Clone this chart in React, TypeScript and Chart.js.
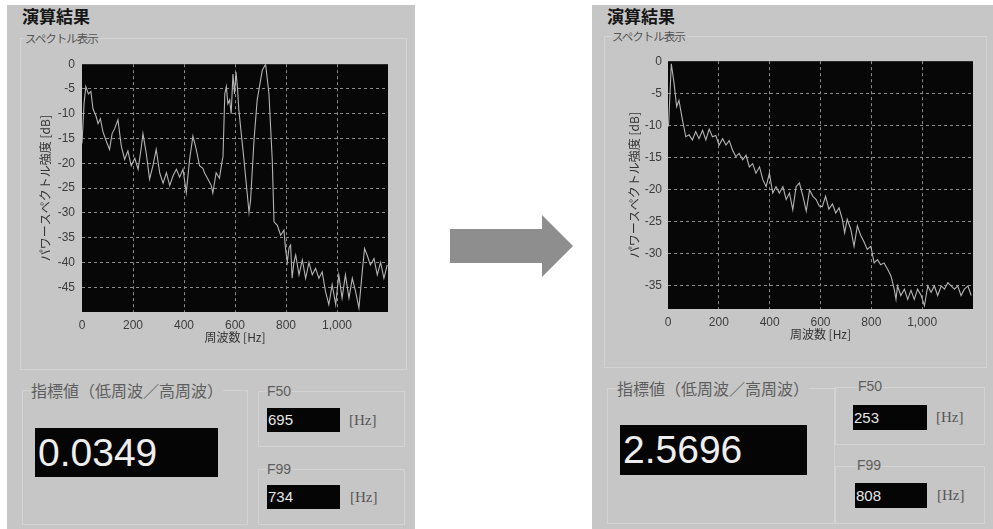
import React, { useEffect, useRef } from "react";
import { Chart, registerables } from "chart.js";

Chart.register(...registerables);

// ---- data ----
const FREQ_TICKS = [0, 200, 400, 600, 800, 1000];
const BEFORE_DB_TICKS = [0, -5, -10, -15, -20, -25, -30, -35, -40, -45];
const AFTER_DB_TICKS = [0, -5, -10, -15, -20, -25, -30, -35];

const beforeFreq = [0, 8, 15, 25, 35, 43, 55, 63, 72, 82, 95, 108, 118, 128, 141, 154, 167, 180, 193, 207, 220, 232, 239, 252, 265, 278, 291, 305, 318, 331, 344, 357, 370, 383, 396, 409, 422, 435, 448, 461, 474, 481, 494, 507, 513, 526, 539, 548, 553, 560, 566, 572, 579, 585, 592, 598, 604, 610, 615, 635, 655, 661, 675, 687, 707, 720, 733, 746, 753, 766, 779, 792, 798, 805, 812, 818, 824, 831, 838, 851, 864, 877, 890, 903, 916, 929, 942, 955, 968, 981, 995, 1007, 1020, 1033, 1047, 1060, 1073, 1086, 1099, 1108, 1118, 1131, 1145, 1158, 1171, 1184, 1197];
const beforeDb = [-16, -8, -4.5, -6, -5.5, -9, -10.5, -12, -11, -13.6, -15.5, -17.2, -14, -13, -11.2, -16.5, -19.2, -17.5, -20.5, -19, -21.2, -17, -14, -18, -23.2, -20.5, -17.2, -22, -24, -21.9, -24.5, -22.5, -21.2, -22.8, -21.2, -25.9, -19.2, -14.5, -17.2, -20.5, -21, -22, -23.2, -24.5, -26, -21.9, -23, -20, -18.6, -6, -4.5, -8, -7.2, -10, -2, -6, -1.6, -5, -9.2, -19.2, -29.9, -27.5, -15, -7.2, -1.2, 0, -5.9, -19.2, -31.8, -32.5, -34.5, -33.5, -37.2, -39.9, -37, -36.5, -43.2, -40, -38.5, -42.5, -39.5, -43.2, -40, -42.5, -41.2, -43.2, -41.9, -45.9, -48.5, -44.5, -48.5, -42.5, -47.2, -42.5, -47.2, -43.2, -45.9, -49.2, -41.9, -37.2, -38.5, -40.5, -39.2, -42.5, -40, -43.2, -40.5];

const afterFreq = [2, 13, 24, 34, 43, 57, 70, 83, 96, 109, 122, 136, 149, 162, 175, 188, 201, 215, 228, 241, 254, 267, 280, 294, 307, 320, 333, 346, 360, 373, 386, 399, 412, 425, 438, 452, 465, 478, 491, 504, 517, 531, 544, 557, 570, 583, 595, 607, 620, 633, 647, 660, 673, 686, 695, 705, 719, 732, 745, 758, 771, 784, 798, 811, 824, 837, 850, 864, 877, 890, 897, 903, 916, 930, 943, 956, 969, 982, 996, 1009, 1022, 1035, 1048, 1061, 1075, 1088, 1101, 1114, 1127, 1140, 1153, 1166, 1180, 1193];
const afterDb = [-10.2, -0.4, -3.5, -7.1, -6.1, -9.2, -11.8, -11.5, -12.3, -11, -12.1, -10.8, -12.3, -10.6, -11.8, -11.6, -13.1, -12.1, -13.1, -12.4, -13.9, -14.9, -14.4, -15.4, -14.7, -16.5, -16, -17.5, -16.5, -18.5, -19.6, -17.5, -20.6, -19.6, -20.6, -19.6, -21.6, -20.6, -23.2, -19.6, -19, -21.1, -23.4, -20.1, -21.1, -21.6, -22.6, -22.7, -21.1, -23.1, -22.3, -23.7, -22.9, -24.7, -26.8, -24.7, -26.2, -28.9, -25.7, -27.2, -28.2, -29.4, -28.9, -31.5, -31, -31.8, -31.5, -32.5, -33.5, -35.6, -37.2, -35.1, -36.6, -35.6, -37.2, -35.8, -37.2, -35.6, -36.6, -38.2, -35.1, -36.1, -35.1, -36.6, -35.1, -35.6, -34.6, -35.1, -35.6, -35.1, -36.6, -35.6, -35.1, -36.6];

const indexValues = ["0.0349", "2.5696"];
const f50Values = ["695", "253"];
const f99Values = ["734", "808"];

const TITLE = "演算結果";
const GROUP_LABEL = "スペクトル表示";
const Y_TITLE = "パワースペクトル強度 [dB]";
const X_TITLE = "周波数 [Hz]";
const INDEX_LABEL = "指標値（低周波／高周波）";

const CJK = '"Noto Sans CJK JP", sans-serif';
const TICK_FONT = '"Liberation Sans", Arial, sans-serif';
const PANEL_BG = "#c6c6c6";

const plotBg = {
  id: "plotBg",
  beforeDraw(chart: any) {
    const { ctx, chartArea } = chart;
    if (!chartArea) return;
    ctx.save();
    ctx.fillStyle = "#070707";
    ctx.fillRect(chartArea.left, chartArea.top, chartArea.right - chartArea.left, chartArea.bottom - chartArea.top);
    ctx.restore();
  },
};

type SpecProps = {
  freq: number[];
  db: number[];
  yMin: number;
  yTicks: number[];
  left: number;
  top: number;
  width: number;
  height: number;
  padLeft: number;
  padTop: number;
  padRight: number;
  yAxisWidth: number;
  xAxisHeight: number;
  tickPadY: number;
};

function Spectrum(p: SpecProps) {
  const ref = useRef<HTMLCanvasElement | null>(null);
  useEffect(() => {
    if (!ref.current) return;
    const gridColor = (ctx: any) => {
      const v = ctx.tick ? ctx.tick.value : null;
      return v === 0 ? "rgba(0,0,0,0)" : "#8c8c8c";
    };
    const chart = new Chart(ref.current, {
      type: "line",
      data: {
        datasets: [
          {
            data: p.freq.map((f, i) => ({ x: f, y: p.db[i] })),
            borderColor: "#b4b4b4",
            borderWidth: 1.1,
            pointRadius: 0,
            tension: 0,
            fill: false,
          },
        ],
      },
      options: {
        animation: false,
        responsive: false,
        devicePixelRatio: 1,
        layout: { padding: { left: p.padLeft, top: p.padTop, right: p.padRight, bottom: 0 } },
        plugins: { legend: { display: false }, tooltip: { enabled: false } },
        scales: {
          x: {
            type: "linear",
            min: 0,
            max: 1200,
            afterBuildTicks: (s: any) => {
              s.ticks = FREQ_TICKS.map((v) => ({ value: v }));
            },
            afterFit: (s: any) => {
              s.height = p.xAxisHeight;
            },
            grid: { color: gridColor, drawTicks: false, lineWidth: 1 },
            border: { display: false, dash: [3, 3] },
            ticks: {
              padding: 6,
              color: "#3c3c3c",
              font: { family: TICK_FONT, size: 12 },
              maxRotation: 0,
              autoSkip: false,
              callback: (v: any) => Number(v).toLocaleString("en-US"),
            },
            title: { display: true, text: X_TITLE, color: "#333", font: { family: CJK, size: 12 }, padding: 0 },
          },
          y: {
            type: "linear",
            min: p.yMin,
            max: 0,
            afterBuildTicks: (s: any) => {
              s.ticks = p.yTicks.map((v) => ({ value: v }));
            },
            afterFit: (s: any) => {
              s.width = p.yAxisWidth;
            },
            grid: { color: gridColor, drawTicks: false, lineWidth: 1 },
            border: { display: false, dash: [3, 3] },
            ticks: {
              padding: p.tickPadY,
              color: "#3c3c3c",
              font: { family: TICK_FONT, size: 12 },
              autoSkip: false,
              callback: (v: any) => String(v),
            },
            title: { display: true, text: Y_TITLE, color: "#333", font: { family: CJK, size: 12 }, padding: 0 },
          },
        },
      },
      plugins: [plotBg],
    } as any);
    return () => chart.destroy();
  }, []);
  return (
    <canvas
      ref={ref}
      width={p.width}
      height={p.height}
      style={{ position: "absolute", left: p.left, top: p.top, width: p.width, height: p.height }}
    />
  );
}

const abs = (l: number, t: number, extra: React.CSSProperties = {}): React.CSSProperties => ({
  position: "absolute",
  left: l,
  top: t,
  whiteSpace: "nowrap",
  ...extra,
});

type Rect = [number, number, number, number];

type PanelProps = {
  x0: number;
  width: number;
  idx: number;
  chart: SpecProps;
  geo: {
    titleL: number;
    titleT: number;
    groupL: number;
    groupT: number;
    frame: Rect;
    indexL: number;
    indexT: number;
    bigBox: Rect;
    f50L: [number, number];
    f50Box: Rect;
    f99L: [number, number];
    f99Box: Rect;
    hzL: number;
    idxFrame: Rect;
    fFrame1: Rect;
    fFrame2: Rect;
  };
};

function Panel({ x0, width, idx, chart, geo }: PanelProps) {
  const frameStyle = (r: Rect): React.CSSProperties =>
    abs(r[0], r[1], { width: r[2], height: r[3], border: "1px solid #d3d3d3", boxSizing: "border-box" });
  const labelGrey = "#5e5e5e";
  const smallBox = (r: Rect, text: string) => (
    <div
      style={abs(r[0], r[1], {
        width: r[2],
        height: r[3],
        background: "#050505",
        color: "#e6e6e6",
        fontFamily: TICK_FONT,
        fontSize: 15,
        lineHeight: r[3] + "px",
        paddingLeft: 1,
        boxSizing: "border-box",
      })}
    >
      {text}
    </div>
  );
  return (
    <>
      <div style={abs(x0, 5, { width, height: 524, background: PANEL_BG })} />
      <div style={frameStyle(geo.frame)} />
      <div style={frameStyle(geo.idxFrame)} />
      <div style={frameStyle(geo.fFrame1)} />
      <div style={frameStyle(geo.fFrame2)} />
      <div style={abs(geo.titleL, geo.titleT, { fontFamily: CJK, fontSize: 17, fontWeight: 700, color: "#151515", lineHeight: "18px" })}>
        {TITLE}
      </div>
      <div
        style={abs(geo.groupL, geo.groupT, {
          fontFamily: CJK,
          fontSize: 11.5,
          letterSpacing: -1,
          color: "#555",
          lineHeight: "13px",
          background: PANEL_BG,
          paddingRight: 2,
        })}
      >
        {GROUP_LABEL}
      </div>
      <Spectrum {...chart} />
      <div style={abs(geo.indexL, geo.indexT, { fontFamily: CJK, fontSize: 16, color: labelGrey, lineHeight: "18px", background: PANEL_BG })}>
        {INDEX_LABEL}
      </div>
      <div
        style={abs(geo.bigBox[0], geo.bigBox[1], {
          width: geo.bigBox[2],
          height: geo.bigBox[3],
          background: "#050505",
          color: "#eeeeee",
          fontFamily: TICK_FONT,
          fontSize: 39,
          lineHeight: geo.bigBox[3] + "px",
          paddingLeft: 3,
          boxSizing: "border-box",
        })}
      >
        {indexValues[idx]}
      </div>
      <div style={abs(geo.f50L[0], geo.f50L[1], { fontFamily: TICK_FONT, fontSize: 14, color: labelGrey, lineHeight: "16px", background: PANEL_BG })}>
        F50
      </div>
      {smallBox(geo.f50Box, f50Values[idx])}
      <div style={abs(geo.hzL, geo.f50Box[1], { fontFamily: '"Liberation Serif", serif', fontSize: 15, color: "#555", lineHeight: geo.f50Box[3] + "px" })}>
        [Hz]
      </div>
      <div style={abs(geo.f99L[0], geo.f99L[1], { fontFamily: TICK_FONT, fontSize: 14, color: labelGrey, lineHeight: "16px", background: PANEL_BG })}>
        F99
      </div>
      {smallBox(geo.f99Box, f99Values[idx])}
      <div style={abs(geo.hzL + 1, geo.f99Box[1], { fontFamily: '"Liberation Serif", serif', fontSize: 15, color: "#555", lineHeight: geo.f99Box[3] + "px" })}>
        [Hz]
      </div>
    </>
  );
}

export default function App() {
  const leftChart: SpecProps = {
    freq: beforeFreq,
    db: beforeDb,
    yMin: -50,
    yTicks: BEFORE_DB_TICKS,
    left: 30,
    top: 50,
    width: 366,
    height: 295,
    padLeft: 8,
    padTop: 12,
    padRight: 8,
    yAxisWidth: 44,
    xAxisHeight: 33,
    tickPadY: 7,
  };
  const rightChart: SpecProps = {
    freq: afterFreq,
    db: afterDb,
    yMin: -38.7,
    yTicks: AFTER_DB_TICKS,
    left: 620,
    top: 48,
    width: 361,
    height: 294,
    padLeft: 7,
    padTop: 12,
    padRight: 8,
    yAxisWidth: 41,
    xAxisHeight: 33,
    tickPadY: 6,
  };
  return (
    <div style={{ position: "absolute", left: 0, top: 0, width: 993, height: 529, background: "#ffffff", overflow: "hidden" }}>
      <Panel
        x0={7}
        width={408}
        idx={0}
        chart={leftChart}
        geo={{
          titleL: 22,
          titleT: 7,
          groupL: 25,
          groupT: 32,
          frame: [20, 38, 387, 332],
          indexL: 31,
          indexT: 381,
          bigBox: [35, 428, 183, 49],
          f50L: [267, 383],
          f50Box: [267, 408, 73, 24],
          f99L: [267, 461],
          f99Box: [267, 485, 73, 24],
          hzL: 349,
          idxFrame: [22, 390, 226, 135],
          fFrame1: [258, 391, 147, 56],
          fFrame2: [258, 469, 147, 56],
        }}
      />
      <Panel
        x0={592}
        width={401}
        idx={1}
        chart={rightChart}
        geo={{
          titleL: 607,
          titleT: 7,
          groupL: 612,
          groupT: 30,
          frame: [604, 36, 383, 332],
          indexL: 617,
          indexT: 379,
          bigBox: [620, 425, 187, 50],
          f50L: [858, 378],
          f50Box: [853, 405, 74, 25],
          f99L: [857, 457],
          f99Box: [855, 483, 72, 25],
          hzL: 936,
          idxFrame: [607, 388, 228, 136],
          fFrame1: [835, 387, 150, 58],
          fFrame2: [835, 466, 150, 58],
        }}
      />
      <svg style={{ position: "absolute", left: 0, top: 0 }} width={993} height={529}>
        <polygon points="450,229 542,229 542,215 573,246 542,277 542,263 450,263" fill="#8e8e8e" />
      </svg>
    </div>
  );
}
